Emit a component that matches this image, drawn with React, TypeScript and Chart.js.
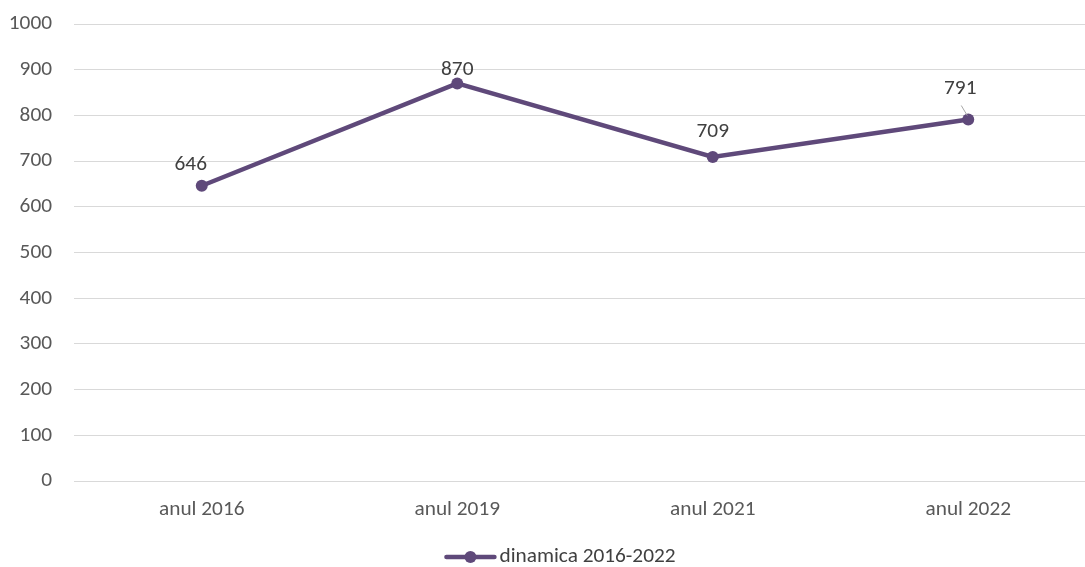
import React, { useEffect, useRef } from "react";
import { Chart, registerables } from "chart.js";

Chart.register(...registerables);

const categories = ["anul 2016", "anul 2019", "anul 2021", "anul 2022"];
const values = [646, 870, 709, 791];
const seriesName = "dinamica 2016-2022";
const yTicks = [0, 100, 200, 300, 400, 500, 600, 700, 800, 900, 1000];

const LINE = "#5f497a";
const FONT = "Carlito, 'Open Sans', sans-serif";
const TEXT = "#595959";
const FS = 21.3;

const labelPlugin = {
  id: "dataLabels",
  afterDatasetsDraw(chart: any) {
    const ctx = chart.ctx;
    const meta = chart.getDatasetMeta(0);
    ctx.save();
    ctx.font = `${FS}px ${FONT}`;
    ctx.fillStyle = "#404040";
    ctx.textAlign = "center";
    ctx.textBaseline = "middle";
    const xShift = [-11, 0, 0, -8];
    const yShift = [-21, -14, -25, -31];
    meta.data.forEach((pt: any, i: number) => {
      const v = chart.data.datasets[0].data[i];
      ctx.fillText(String(v), pt.x + xShift[i], pt.y + yShift[i]);
    });
    const last = meta.data[3];
    if (last) {
      ctx.strokeStyle = "#a6a6a6";
      ctx.lineWidth = 1;
      ctx.beginPath();
      ctx.moveTo(last.x - 7, last.y - 14);
      ctx.lineTo(last.x - 1, last.y - 4);
      ctx.stroke();
    }
    ctx.restore();
  },
  afterDraw(chart: any) {
    const ctx = chart.ctx;
    ctx.save();
    ctx.font = `${FS}px ${FONT}`;
    const text = seriesName;
    const tw = ctx.measureText(text).width;
    const iconW = 52;
    const gap = 3;
    const total = iconW + gap + tw;
    const cx = 560;
    const y = 557;
    const x0 = cx - total / 2;
    ctx.strokeStyle = LINE;
    ctx.lineWidth = 4.5;
    ctx.lineCap = "round";
    ctx.beginPath();
    ctx.moveTo(x0 + 2, y);
    ctx.lineTo(x0 + iconW - 2, y);
    ctx.stroke();
    ctx.fillStyle = LINE;
    ctx.beginPath();
    ctx.arc(x0 + iconW / 2, y, 6, 0, Math.PI * 2);
    ctx.fill();
    ctx.fillStyle = "#404040";
    ctx.textAlign = "left";
    ctx.textBaseline = "middle";
    ctx.fillText(text, x0 + iconW + gap, y);
    ctx.restore();
  },
};

export default function App() {
  const ref = useRef<HTMLCanvasElement>(null);
  useEffect(() => {
    if (!ref.current) return;
    const chart = new Chart(ref.current, {
      type: "line",
      data: {
        labels: categories,
        datasets: [
          {
            label: seriesName,
            data: values,
            borderColor: LINE,
            backgroundColor: LINE,
            borderWidth: 4.5,
            pointRadius: 6,
            pointHoverRadius: 6,
            pointBackgroundColor: LINE,
            pointBorderWidth: 0,
            pointStyle: "circle",
            tension: 0,
          },
        ],
      },
      options: {
        animation: false,
        responsive: false,
        maintainAspectRatio: false,
        layout: { padding: { top: 0, right: 0, left: 9, bottom: 40 } },
        plugins: {
          tooltip: { enabled: false },
          legend: { display: false },
        },
        scales: {
          x: {
            offset: true,
            grid: { display: false, drawTicks: false },
            border: { display: false },
            ticks: { color: TEXT, font: { family: FONT, size: FS }, padding: 16 },
            afterFit: (axis: any) => {
              axis.height = 46;
            },
          },
          y: {
            min: 0,
            max: 1000,
            afterBuildTicks: (axis: any) => {
              axis.ticks = yTicks.map((v) => ({ value: v }));
            },
            grid: { color: "#d9d9d9", lineWidth: 1, drawTicks: false },
            border: { display: false },
            ticks: {
              color: TEXT,
              font: { family: FONT, size: FS },
              padding: 22,
              callback: (v: any) => String(v),
            },
            afterFit: (axis: any) => {
              axis.width = 65;
              axis.paddingTop = 24;
              axis.paddingBottom = 13;
            },
          },
        },
      },
      plugins: [labelPlugin],
    });
    return () => chart.destroy();
  }, []);
  return (
    <div style={{ position: "fixed", left: 0, top: 0, width: 1085, height: 567, overflow: "hidden", background: "#fff" }}>
      <canvas ref={ref} width={1102} height={567} style={{ display: "block" }} />
    </div>
  );
}
